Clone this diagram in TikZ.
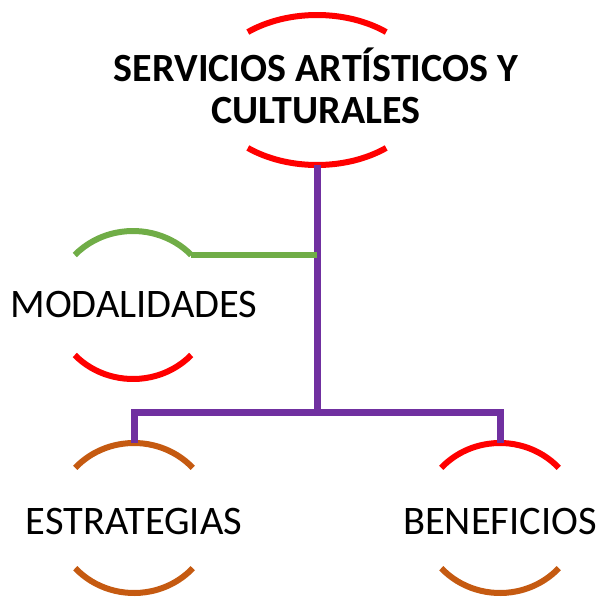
\documentclass[tikz,border=0pt]{standalone}
\usepackage{fontspec}
\setmainfont{Carlito}
\usetikzlibrary{calc}
\definecolor{arcred}{HTML}{FF0000}
\definecolor{arcgreen}{HTML}{70AD47}
\definecolor{linkpurple}{HTML}{7030A0}
\definecolor{arcorange}{HTML}{C55A11}
\begin{document}
\begin{tikzpicture}[x=1pt,y=1pt,
  arcline/.style={line width=6pt},
  link/.style={line width=7pt, draw=linkpurple},
  greenlink/.style={line width=6pt, draw=arcgreen},
  label/.style={inner sep=0pt, font=\fontsize{40.5}{43}\selectfont},
  titlelabel/.style={inner sep=0pt, align=center, font=\bfseries\fontsize{40}{42}\selectfont}]
\useasboundingbox (0,0) rectangle (599,-597);
% centres
\coordinate (cTop) at (317,-90);
\coordinate (cMod) at (133,-305);
\coordinate (cEst) at (134,-518);
\coordinate (cBen) at (500,-518);
% texts
\node[titlelabel] (top) at (316,-86) {SERVICIOS ARTÍSTICOS Y\\CULTURALES};
\node[label, anchor=base] (mod) at (134,-317) {MODALIDADES};
\node[label, anchor=base] (est) at (134,-534) {ESTRATEGIAS};
\node[label, anchor=base] (ben) at (500,-534) {BENEFICIOS};
% top ellipse arcs
\draw[arcline, arcred] ($(cTop)+(50.6:109pt and 75pt)$) arc[start angle=50.6, end angle=129.4, x radius=109pt, y radius=75pt];
\draw[arcline, arcred] ($(cTop)+(230.6:109pt and 75pt)$) arc[start angle=230.6, end angle=309.4, x radius=109pt, y radius=75pt];
% modalidades arcs
\draw[arcline, arcgreen] ($(cMod)+(42.5:79pt and 74pt)$) coordinate (modR) arc[start angle=42.5, end angle=137.5, x radius=79pt, y radius=74pt];
\draw[arcline, arcred] ($(cMod)+(222.5:79pt and 74pt)$) arc[start angle=222.5, end angle=317.5, x radius=79pt, y radius=74pt];
% estrategias arcs
\draw[arcline, arcorange] ($(cEst)+(42:79pt and 75pt)$) arc[start angle=42, end angle=138, x radius=79pt, y radius=75pt];
\draw[arcline, arcorange] ($(cEst)+(222:79pt and 75pt)$) arc[start angle=222, end angle=318, x radius=79pt, y radius=75pt];
% beneficios arcs
\draw[arcline, arcred] ($(cBen)+(42:79pt and 75pt)$) arc[start angle=42, end angle=138, x radius=79pt, y radius=75pt];
\draw[arcline, arcorange] ($(cBen)+(222:79pt and 75pt)$) arc[start angle=222, end angle=318, x radius=79pt, y radius=75pt];
% connectors
\coordinate (topS) at ($(cTop)+(0,-75)$);
\coordinate (junc) at (317,-412);
\coordinate (estN) at ($(cEst)+(0,75)$);
\coordinate (benN) at ($(cBen)+(0,75)$);
\coordinate (modJ) at (topS |- modR);
\draw[link] (topS) -- (junc);
\draw[link] (estN) -- (estN |- junc) -- (benN |- junc) -- (benN);
\draw[greenlink] (modR) -- (modJ);
\end{tikzpicture}
\end{document}
